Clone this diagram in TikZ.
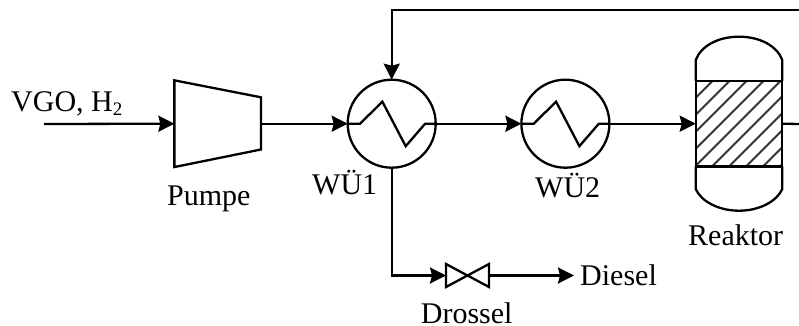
\documentclass[tikz,border=0pt]{standalone}
\usepackage{fontspec}
\setmainfont{Liberation Serif}
\usetikzlibrary{arrows.meta}
\tikzset{
  flow/.style={line width=2.3pt,-{Stealth[length=16pt,width=16pt,inset=2pt]}},
  plain/.style={line width=2.3pt},
  exch/.style={circle,draw,line width=2.3pt,minimum size=88pt,inner sep=0pt,outer sep=0pt},
  ghost/.style={rectangle,inner sep=0pt,outer sep=0pt},
  lbl/.style={anchor=base west,inner sep=0pt,font=\fontsize{30}{30}\selectfont},
}
\begin{document}
\begin{tikzpicture}[x=1pt,y=-1pt,line join=miter]
\useasboundingbox (0,0) rectangle (799,326);
% nodes
\node[exch] (wu1) at (391.7,123.7) {};
\node[exch] (wu2) at (565.4,123.7) {};
\node[ghost,minimum width=86.7pt,minimum height=86.7pt] (pump) at (217.7,123.7) {};
\node[ghost,minimum width=86.6pt,minimum height=85.4pt] (bed) at (739,123.7) {};
\node[ghost,minimum width=43pt,minimum height=23pt] (valve) at (467.5,275.5) {};
\coordinate (in) at (44,124);
\coordinate (outR) at (799,124);
\coordinate (topR) at (799,9.7);
\coordinate (corner) at (391.7,9.7);
\coordinate (bend) at (391.7,275.5);
\coordinate (dieselEnd) at (574,275.5);
% pump
\draw[plain] (pump.north west) -- (261,97.3) -- (261,149.5) -- (pump.south west) -- cycle;
% exchanger zigzags
\foreach \n in {wu1,wu2}{
  \draw[plain,line join=miter] (\n.west) -- ++(12.3,0) -- ++(22.4,-22) -- ++(23.3,44.5) -- ++(19.4,-22.5) -- (\n.east);
}
% reactor
\begin{scope}
\clip (bed.north west) rectangle (bed.south east);
\foreach \k in {-6,...,11}{
  \draw[line width=2pt,black!80] (695+\k*17,166.5) -- ++(86,-86);
}
\end{scope}
\draw[plain] (bed.north west) rectangle (bed.south east);
\draw[plain] (bed.north west) -- (695.7,60) .. controls (701,46) and (718,36.7) .. (739,36.7)
  .. controls (760,36.7) and (777,46) .. (782.3,60) -- (bed.north east);
\draw[plain] (bed.south west) -- (695.7,189) .. controls (701,201) and (718,210.7) .. (739,210.7)
  .. controls (760,210.7) and (777,201) .. (782.3,189) -- (bed.south east);
% valve
\draw[plain] (valve.north west) -- (valve.south east) -- (valve.north east) -- (valve.south west) -- cycle;
% connectors
\draw[flow] (in) -- (pump.west);
\draw[flow] (261,123.7) -- (wu1.west);
\draw[flow] (wu1.east) -- (wu2.west);
\draw[flow] (wu2.east) -- (bed.west);
\draw[plain] (bed.east) -- (outR);
\draw[flow] (topR) -- (corner) -- (wu1.north);
\draw[flow] (wu1.south) -- (bend) -- (valve.west);
\draw[flow] (valve.east) -- (dieselEnd);
% labels
\node[lbl] (t1) at (11,111.7) {VGO, H\raisebox{-4pt}{\fontsize{19}{19}\selectfont 2}};
\node[lbl] (t2) at (167,205) {Pumpe};
\node[lbl] (t3) at (312,194) {WÜ1};
\node[lbl] (t4) at (535,197.7) {WÜ2};
\node[lbl] (t5) at (688,245) {Reaktor};
\node[lbl] (t6) at (580,285) {Diesel};
\node[lbl] (t7) at (420.7,323) {Drossel};
\end{tikzpicture}
\end{document}
